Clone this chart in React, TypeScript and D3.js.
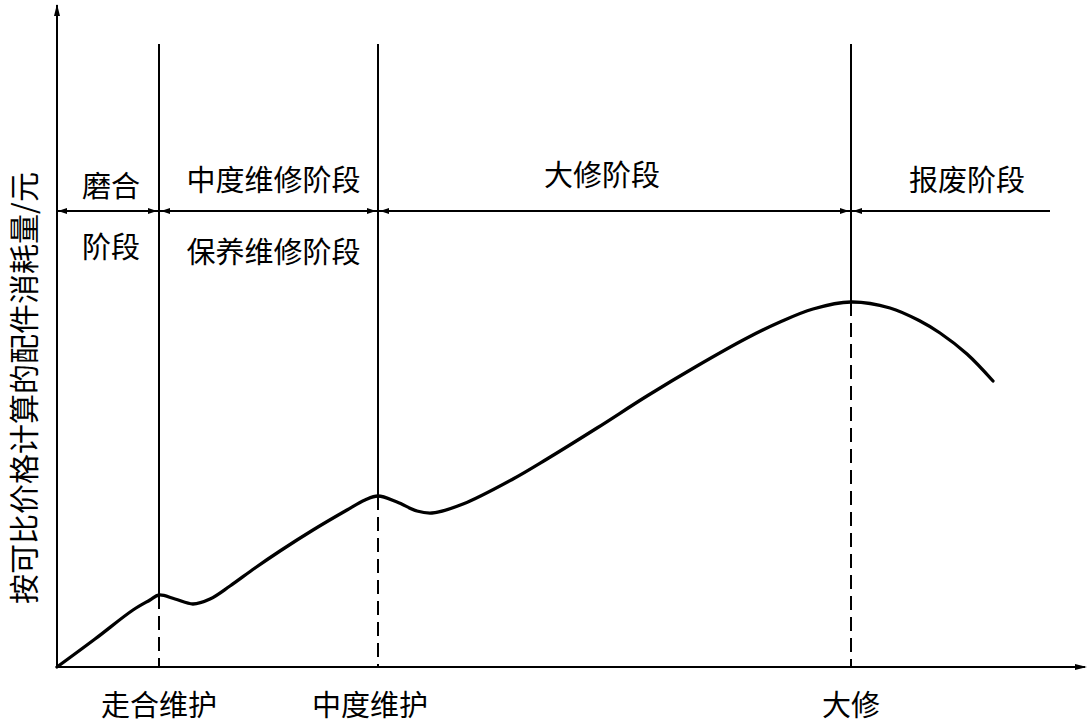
import React from "react";
import * as d3 from "d3";

// Curve: stage progression (x) vs. parts consumption (y), arbitrary units
const curveX = [0, 3.8, 7.6, 9.3, 10.2, 11.8, 13.6, 15.3, 17.3, 19.8, 22.3, 25.6, 29.0, 30.8, 32.1, 34.0, 36.0, 37.5, 40.6, 45.6, 49.0, 54.0, 59.0, 64.0, 69.0, 72.3, 75.6, 79.4, 83.3, 86.3, 88.3, 91.0, 93.6];
const curveY = [0, 2.8, 5.7, 6.7, 7.2, 6.8, 6.3, 6.8, 8.1, 9.9, 11.6, 13.7, 15.7, 16.7, 17.1, 16.5, 15.6, 15.4, 16.3, 18.8, 20.8, 23.9, 27.1, 30.1, 32.9, 34.5, 35.8, 36.5, 35.9, 34.6, 33.4, 31.3, 28.6];

// Maintenance events (vertical boundaries)
const eventX = [10.2, 32.1, 79.4];
const eventCurveY = [7.2, 17.1, 36.5];
const eventLabels = ["走合维护", "中度维护", "大修"];
const boundaryTop = 62.3;
const stageLineY = 45.6;
const stageLineEnd = 99.3;

// Stage labels
const stageTexts = ["磨合", "阶段", "中度维修阶段", "保养维修阶段", "大修阶段", "报废阶段"];
const stageTextX = [5.4, 5.4, 21.65, 21.65, 54.5, 91.0];
const stageTextY = [48.3, 42.2, 48.9, 41.7, 49.4, 48.9];

const yTitle = "按可比价格计算的配件消耗量/元";

const W = 1090, H = 724;
const x = d3.scaleLinear().domain([0, 103]).range([57, 1087]);
const y = d3.scaleLinear().domain([0, 66.5]).range([667, 2]);

const font = "'Noto Sans CJK SC', 'Noto Sans CJK JP', sans-serif";

function Arrow({ px, py, dir, len = 9, half = 3 }: { px: number; py: number; dir: "l" | "r" | "u"; len?: number; half?: number }) {
  let pts: string;
  if (dir === "l") pts = `${px},${py} ${px + len},${py - half} ${px + len},${py + half}`;
  else if (dir === "r") pts = `${px},${py} ${px - len},${py - half} ${px - len},${py + half}`;
  else pts = `${px},${py} ${px - half},${py + len} ${px + half},${py + len}`;
  return <polygon points={pts} fill="#000" />;
}

export default function App() {
  const pts = curveX.map((v, i) => [v, curveY[i]] as [number, number]);
  const line = d3
    .line<[number, number]>()
    .x((d) => x(d[0]))
    .y((d) => y(d[1]))
    .curve(d3.curveCatmullRom.alpha(0.5));

  const sy = y(stageLineY);
  return (
    <svg width={W} height={H} style={{ position: "absolute", left: 0, top: 0, background: "#fff" }}>
      {/* axes */}
      <line x1={x(0)} y1={y(0)} x2={x(0)} y2={y(66.2)} stroke="#000" strokeWidth={2} />
      <Arrow px={x(0)} py={y(66.3)} dir="u" len={12} half={3} />
      <line x1={x(0)} y1={y(0)} x2={x(102.8)} y2={y(0)} stroke="#000" strokeWidth={2} />
      <Arrow px={x(103)} py={y(0)} dir="r" len={12} half={3} />

      {/* boundaries */}
      {eventX.map((ex, i) => (
        <g key={i}>
          <line x1={x(ex)} y1={y(boundaryTop)} x2={x(ex)} y2={y(eventCurveY[i])} stroke="#000" strokeWidth={2} />
          <line x1={x(ex)} y1={y(eventCurveY[i])} x2={x(ex)} y2={y(0)} stroke="#000" strokeWidth={2} strokeDasharray="14 7" />
        </g>
      ))}

      {/* stage line with arrows */}
      <line x1={x(0)} y1={sy} x2={x(stageLineEnd)} y2={sy} stroke="#000" strokeWidth={2} />
      <Arrow px={x(0) + 1} py={sy} dir="l" />
      {eventX.map((ex, i) => (
        <g key={i}>
          <Arrow px={x(ex) - 2} py={sy} dir="r" />
          <Arrow px={x(ex) + 2} py={sy} dir="l" />
        </g>
      ))}

      {/* curve */}
      <path d={line(pts) || ""} fill="none" stroke="#000" strokeWidth={3.3} strokeLinejoin="round" strokeLinecap="round" />

      {/* stage labels */}
      {stageTexts.map((t, i) => (
        <text key={i} x={x(stageTextX[i])} y={y(stageTextY[i])} textAnchor="middle" dominantBaseline="central" fontFamily={font} fontSize={29} fill="#000">
          {t}
        </text>
      ))}

      {/* event labels */}
      {eventX.map((ex, i) => (
        <text key={i} x={x(ex) + (i === 1 ? -8 : 0)} y={703} textAnchor="middle" dominantBaseline="central" fontFamily={font} fontSize={29} fill="#000">
          {eventLabels[i]}
        </text>
      ))}

      {/* y title */}
      <text transform={`translate(22, 388) rotate(-90)`} textAnchor="middle" dominantBaseline="central" fontFamily={font} fontSize={30} fill="#000">
        {yTitle}
      </text>
    </svg>
  );
}
